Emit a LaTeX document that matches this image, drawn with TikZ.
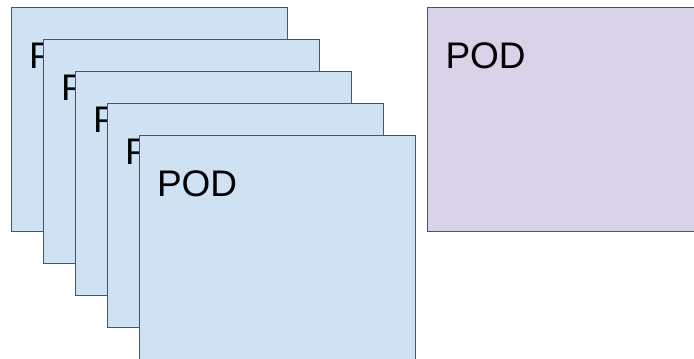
\documentclass[tikz,border=0pt]{standalone}
\usepackage{fontspec}
\setmainfont{Liberation Sans}
\usetikzlibrary{calc}

\begin{document}
\begin{tikzpicture}[x=1pt, y=-1pt]
	\tikzstyle{every node}=[inner sep=0pt, outer sep=0pt]
	\tikzstyle{pod}=[draw=black!68, line width=1.8pt, minimum width=276pt, minimum height=224pt, anchor=north west]
	\tikzstyle{podtext}=[anchor=base west, font=\fontsize{37}{40}\selectfont]
	\definecolor{podblue}{HTML}{CFE2F3}
	\definecolor{podpurple}{HTML}{D9D2E9}
	\useasboundingbox (0, 0) rectangle (694, 359);
	\clip (0, 0) rectangle (694, 359);
	\node[pod, fill=podblue] (p1) at (11.5, 7.5) {};
	\node[podtext] (t1) at ($(p1.north west)+(17.5, 60.5)$) {POD};
	\node[pod, fill=podblue] (p2) at (43.5, 39.5) {};
	\node[podtext] (t2) at ($(p2.north west)+(17.5, 60.5)$) {POD};
	\node[pod, fill=podblue] (p3) at (75.5, 71.5) {};
	\node[podtext] (t3) at ($(p3.north west)+(17.5, 60.5)$) {POD};
	\node[pod, fill=podblue] (p4) at (107.5, 103.5) {};
	\node[podtext] (t4) at ($(p4.north west)+(17.5, 60.5)$) {POD};
	\node[pod, fill=podblue] (p5) at (139.5, 135.5) {};
	\node[podtext] (t5) at ($(p5.north west)+(17.5, 60.5)$) {POD};
	\node[pod, fill=podpurple] (q) at (427.5, 7.5) {};
	\node[podtext] (tq) at ($(q.north west)+(18, 60.5)$) {POD};
\end{tikzpicture}
\end{document}
